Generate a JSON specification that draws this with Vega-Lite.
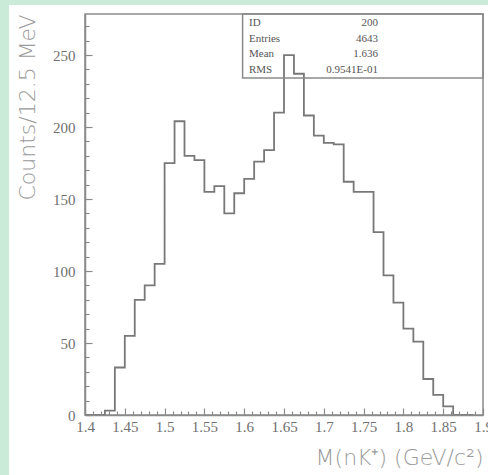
{
  "$schema": "https://vega.github.io/schema/vega-lite/v6.json",
  "width": 398,
  "height": 401,
  "autosize": {"type": "none"},
  "padding": {"left": 85, "top": 14, "right": 5, "bottom": 60},
  "background": "white",
  "config": {"view": {"stroke": "#8a8a8a", "strokeWidth": 1.5, "fill": null}},
  "resolve": {"axis": {"x": "independent", "y": "independent"}},
  "datasets": {
    "hist": [
      {"mass": 1.4, "counts": 0}, {"mass": 1.4125, "counts": 0}, {"mass": 1.425, "counts": 3}, {"mass": 1.4375, "counts": 33},
      {"mass": 1.45, "counts": 55}, {"mass": 1.4625, "counts": 80}, {"mass": 1.475, "counts": 90}, {"mass": 1.4875, "counts": 105},
      {"mass": 1.5, "counts": 175}, {"mass": 1.5125, "counts": 204}, {"mass": 1.525, "counts": 180}, {"mass": 1.5375, "counts": 177},
      {"mass": 1.55, "counts": 155}, {"mass": 1.5625, "counts": 159}, {"mass": 1.575, "counts": 140}, {"mass": 1.5875, "counts": 154},
      {"mass": 1.6, "counts": 164}, {"mass": 1.6125, "counts": 176}, {"mass": 1.625, "counts": 184}, {"mass": 1.6375, "counts": 210},
      {"mass": 1.65, "counts": 250}, {"mass": 1.6625, "counts": 237}, {"mass": 1.675, "counts": 208}, {"mass": 1.6875, "counts": 194},
      {"mass": 1.7, "counts": 189}, {"mass": 1.7125, "counts": 188}, {"mass": 1.725, "counts": 162}, {"mass": 1.7375, "counts": 155},
      {"mass": 1.75, "counts": 155}, {"mass": 1.7625, "counts": 127}, {"mass": 1.775, "counts": 97}, {"mass": 1.7875, "counts": 78},
      {"mass": 1.8, "counts": 60}, {"mass": 1.8125, "counts": 51}, {"mass": 1.825, "counts": 25}, {"mass": 1.8375, "counts": 14},
      {"mass": 1.85, "counts": 6}, {"mass": 1.8625, "counts": 0}, {"mass": 1.875, "counts": 0}, {"mass": 1.8875, "counts": 0}
    ]
  },
  "layer": [
    {
      "data": {"name": "hist"},
      "mark": {"type": "line", "interpolate": "step-after", "color": "#787878", "strokeWidth": 1.8},
      "encoding": {
        "x": {
          "field": "mass", "type": "quantitative",
          "scale": {"domain": [1.4, 1.9], "nice": false, "zero": false},
          "axis": {
            "orient": "bottom",
            "title": "M(nK⁺) (GeV/c²)",
            "values": [1.4,1.41,1.42,1.43,1.44,1.45,1.46,1.47,1.48,1.49,1.5,1.51,1.52,1.53,1.54,1.55,1.56,1.57,1.58,1.59,1.6,1.61,1.62,1.63,1.64,1.65,1.66,1.67,1.68,1.69,1.7,1.71,1.72,1.73,1.74,1.75,1.76,1.77,1.78,1.79,1.8,1.81,1.82,1.83,1.84,1.85,1.86,1.87,1.88,1.89,1.9],
            "format": "~g",
            "labelExpr": "round(datum.value*100) % 5 == 0 ? datum.label : ''",
            "labelFlush": false,
            "labelOverlap": false,
            "labelFont": "Liberation Serif",
            "labelFontSize": 15,
            "labelColor": "#707070",
            "labelPadding": 11,
            "tickSize": {"condition": {"test": "round(datum.value*100) % 5 == 0", "value": -7}, "value": -4},
            "tickColor": "#8a8a8a",
            "tickWidth": 1.2,
            "domainColor": "#8a8a8a",
            "domainWidth": 1.5,
            "grid": false,
            "zindex": 1,
            "titleFont": "DejaVu Sans",
            "titleFontWeight": 200,
            "titleFontSize": 22,
            "titleColor": "#9a9a9a",
            "titleAnchor": "end",
            "titlePadding": 10
          }
        },
        "y": {
          "field": "counts", "type": "quantitative",
          "scale": {"domain": [0, 278.5], "nice": false, "zero": false},
          "axis": {
            "orient": "left",
            "title": "Counts/12.5 MeV",
            "values": [0,10,20,30,40,50,60,70,80,90,100,110,120,130,140,150,160,170,180,190,200,210,220,230,240,250,260,270],
            "labelExpr": "datum.value % 50 == 0 ? datum.label : ''",
            "labelOverlap": false,
            "labelFont": "Liberation Serif",
            "labelFontSize": 15,
            "labelColor": "#707070",
            "labelPadding": 17,
            "tickSize": {"condition": {"test": "datum.value % 50 == 0", "value": -7}, "value": -4},
            "tickColor": "#8a8a8a",
            "tickWidth": 1.2,
            "domainColor": "#8a8a8a",
            "domainWidth": 1.5,
            "grid": false,
            "zindex": 1,
            "titleFont": "DejaVu Sans",
            "titleFontWeight": 200,
            "titleFontSize": 22,
            "titleColor": "#9a9a9a",
            "titleAnchor": "end",
            "titlePadding": 13
          }
        }
      }
    },
    {
      "data": {"values": [{}]},
      "mark": {"type": "rect", "color": "#c9ebd8", "clip": false},
      "encoding": {
        "x": {"datum": 1.2, "type": "quantitative", "axis": null},
        "x2": {"datum": 1.3045},
        "y": {"datum": -100, "type": "quantitative", "axis": null},
        "y2": {"datum": 400}
      }
    },
    {
      "data": {"values": [{}]},
      "mark": {"type": "rect", "color": "#c9ebd8", "clip": false},
      "encoding": {
        "x": {"datum": 1.2, "type": "quantitative", "axis": null},
        "x2": {"datum": 2.0},
        "y": {"datum": 284.7, "type": "quantitative", "axis": null},
        "y2": {"datum": 400}
      }
    },
    {
      "data": {"values": [{}]},
      "mark": {"type": "rect", "fillOpacity": 0, "stroke": "#8a8a8a", "strokeWidth": 1.5, "clip": false},
      "encoding": {
        "x": {"datum": 1.598, "type": "quantitative", "axis": null},
        "x2": {"datum": 1.9},
        "y": {"datum": 234, "type": "quantitative", "axis": null},
        "y2": {"datum": 278.5}
      }
    },
    {
      "data": {"values": [{}]},
      "mark": {"type": "text", "align": "left", "baseline": "middle", "font": "Liberation Serif", "fontSize": 11, "lineHeight": 15.8, "color": "#555555"},
      "encoding": {
        "x": {"datum": 1.606, "type": "quantitative", "axis": null},
        "y": {"datum": 272.4, "type": "quantitative", "axis": null},
        "text": {"value": ["ID", "Entries", "Mean", "RMS"]}
      }
    },
    {
      "data": {"values": [{}]},
      "mark": {"type": "text", "align": "right", "baseline": "middle", "font": "Liberation Serif", "fontSize": 11, "lineHeight": 15.8, "color": "#555555"},
      "encoding": {
        "x": {"datum": 1.768, "type": "quantitative", "axis": null},
        "y": {"datum": 272.4, "type": "quantitative", "axis": null},
        "text": {"value": ["200", "4643", "1.636", "0.9541E-01"]}
      }
    }
  ]
}
